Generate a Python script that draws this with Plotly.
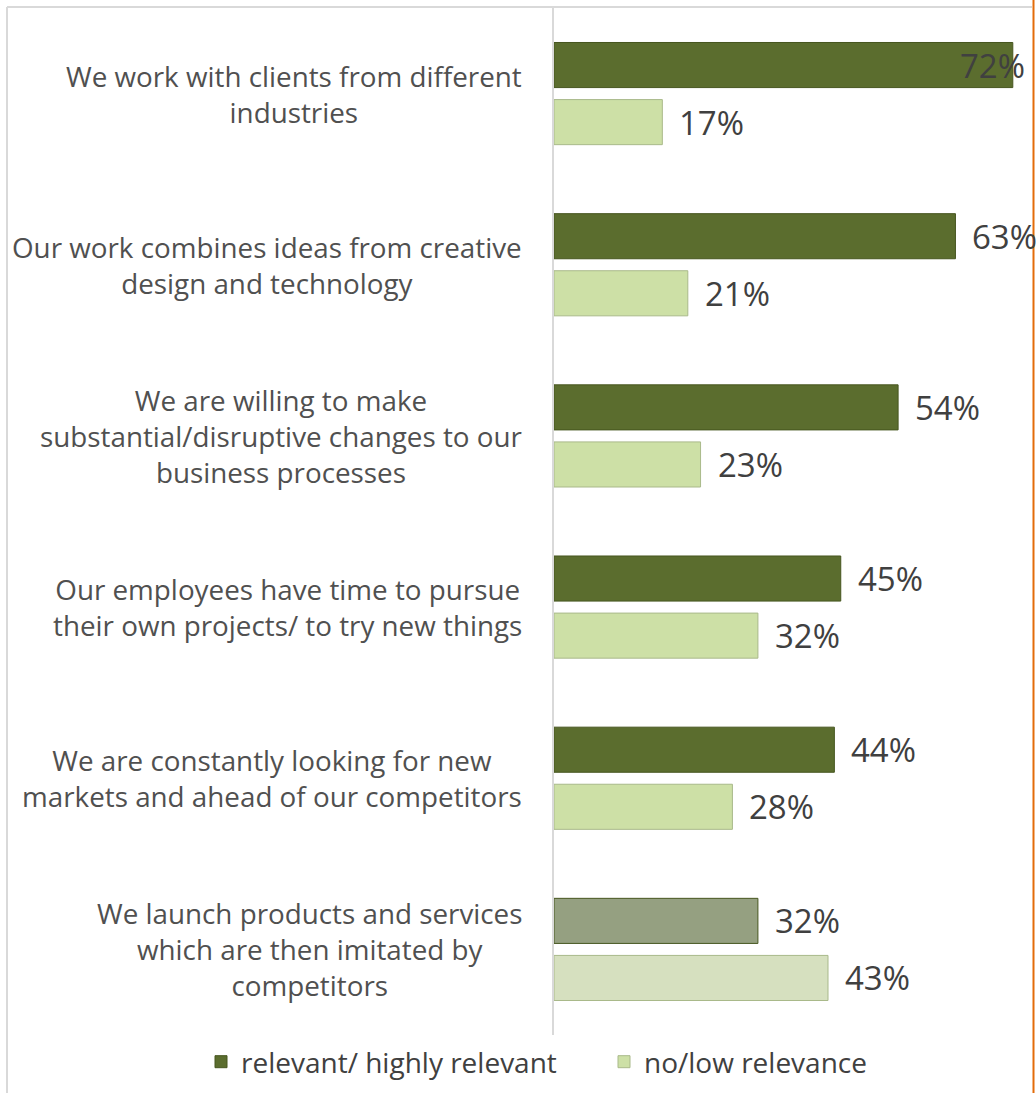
import plotly.graph_objects as go

# Survey statements (top to bottom) and share of respondents per answer group
categories = [
    "We work with clients from different<br>industries",
    "Our work combines ideas from creative<br>design and technology",
    "We are willing to make<br>substantial/disruptive changes to our<br>business processes",
    "Our employees have time to pursue<br>their own projects/ to try new things",
    "We are constantly looking for new<br>markets and ahead of our competitors",
    "We launch products and services<br>which are then imitated by<br>competitors",
]
relevant = [72, 63, 54, 45, 44, 32]
low_relevance = [17, 21, 23, 32, 28, 43]

series_names = ["relevant/ highly relevant", "no/low relevance"]

DARK = "#5b6d2e"
LIGHT = "#cde0a6"
DARK_MUTED = "#95a081"
LIGHT_MUTED = "#d6e0bf"
TEXT = "#404040"
FONT = "Open Sans"

keys = [f"c{i}" for i in range(len(categories))]
dark_colors = [DARK] * 5 + [DARK_MUTED]
light_colors = [LIGHT] * 5 + [LIGHT_MUTED]

fig = go.Figure()
fig.add_trace(go.Bar(
    y=keys, x=relevant, orientation="h", name=series_names[0],
    marker=dict(color=dark_colors, line=dict(color="#46561f", width=1)),
))
fig.add_trace(go.Bar(
    y=keys, x=low_relevance, orientation="h", name=series_names[1],
    marker=dict(color=light_colors, line=dict(color="#a9b98a", width=1)),
))

X_MAX = 74.7
annotations = []
# value labels next to each bar
for series, shift in ((relevant, 28.5), (low_relevance, -28.5)):
    for k, v in zip(keys, series):
        fits = v < 66
        annotations.append(dict(
            x=v, y=k, xref="x", yref="y", text=f"{v}%", showarrow=False,
            xanchor="left" if fits else "right", xshift=15 if fits else 14,
            yshift=shift, font=dict(family=FONT, size=33, color=TEXT),
        ))
# category labels, right-aligned block with centred lines
for k, label in zip(keys, categories):
    annotations.append(dict(
        x=0, y=k, xref="paper", yref="y", text=label, showarrow=False,
        xanchor="right", xshift=-30, align="center",
        font=dict(family=FONT, size=27.8, color="#505050"),
    ))

L, R, T, B = 554, 6, 8, 58
W, H = 1036, 1093
pw, ph = W - L - R, H - T - B


def px_x(p):
    return (p - L) / pw


def px_y(p):
    return (H - B - p) / ph


shapes = [
    dict(type="line", xref="paper", yref="paper", x0=px_x(7), x1=px_x(7),
         y0=px_y(7), y1=px_y(H), line=dict(color="#d9d9d9", width=2)),
    dict(type="line", xref="paper", yref="paper", x0=px_x(7), x1=px_x(1032),
         y0=px_y(7), y1=px_y(7), line=dict(color="#d9d9d9", width=2)),
    dict(type="line", xref="paper", yref="paper", x0=px_x(1033.5), x1=px_x(1033.5),
         y0=px_y(0), y1=px_y(H), line=dict(color="#e36c0a", width=2)),
]

fig.update_layout(
    width=W, height=H,
    margin=dict(l=L, r=R, t=T, b=B, autoexpand=False),
    paper_bgcolor="white", plot_bgcolor="white",
    barmode="group", bargap=0.333, bargroupgap=0.21,
    xaxis=dict(range=[0, X_MAX], visible=False, fixedrange=True),
    yaxis=dict(autorange="reversed", showticklabels=False, showgrid=False,
               showline=True, linecolor="#d9d9d9", linewidth=2, ticks="",
               zeroline=False),
    legend=dict(orientation="h", xref="paper", yref="paper",
                x=px_x(201), xanchor="left", y=px_y(1062), yanchor="middle",
                bgcolor="rgba(0,0,0,0)",
                font=dict(family=FONT, size=28, color=TEXT),
                entrywidth=358, entrywidthmode="pixels", itemwidth=30,
                traceorder="normal"),
    annotations=annotations,
    shapes=shapes,
    font=dict(family=FONT, color=TEXT),
)

fig.write_html("out.html")
